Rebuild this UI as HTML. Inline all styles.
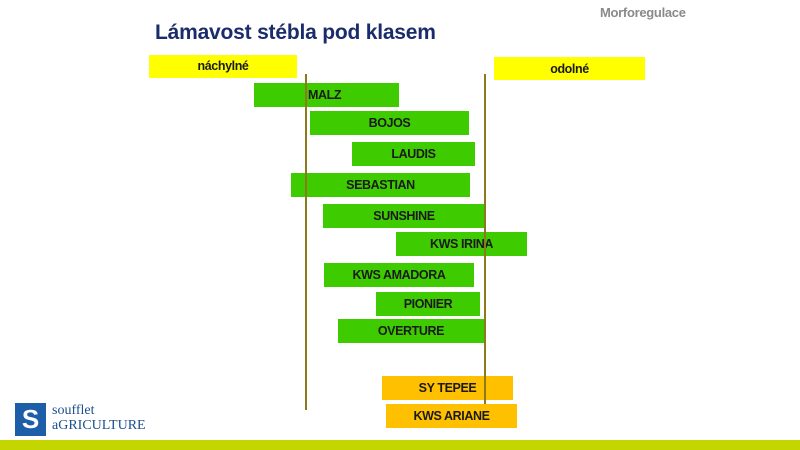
<!DOCTYPE html>
<html><head><meta charset="utf-8"><style>
body{margin:0;width:800px;height:450px;background:#fff;position:relative;overflow:hidden;font-family:"Liberation Sans",sans-serif}
.b{position:absolute;height:24px;background:#3ecc00;color:#1a1a1a;font-weight:bold;font-size:12.5px;letter-spacing:-0.4px;line-height:24px;text-align:center}
.y{background:#ffff00}.o{background:#ffc000}
.l{position:absolute;width:2px;background:#8c7a1c}
</style></head><body>
<div style="position:absolute;left:600px;top:5px;color:#8a8a8a;font-weight:bold;font-size:13px;letter-spacing:-0.3px">Morforegulace</div>
<div style="position:absolute;left:155px;top:21px;color:#1a2c6b;font-weight:bold;font-size:21px;letter-spacing:-0.2px">Lámavost stébla pod klasem</div>
<div class="b y" style="left:149px;top:55px;width:148px;height:23px;line-height:22px">náchylné</div>
<div class="b y" style="left:494px;top:57px;width:151px;height:23px">odolné</div>
<div class="b" style="left:254px;top:83px;width:145px;text-align:left;padding-left:54px;box-sizing:border-box">MALZ</div>
<div class="b" style="left:310px;top:111px;width:159px">BOJOS</div>
<div class="b" style="left:352px;top:142px;width:123px">LAUDIS</div>
<div class="b" style="left:291px;top:173px;width:179px">SEBASTIAN</div>
<div class="b" style="left:323px;top:204px;width:162px">SUNSHINE</div>
<div class="b" style="left:396px;top:232px;width:131px">KWS IRINA</div>
<div class="b" style="left:324px;top:263px;width:150px">KWS AMADORA</div>
<div class="b" style="left:376px;top:292px;width:104px">PIONIER</div>
<div class="b" style="left:338px;top:319px;width:146px">OVERTURE</div>
<div class="b o" style="left:382px;top:376px;width:131px">SY TEPEE</div>
<div class="b o" style="left:386px;top:404px;width:131px">KWS ARIANE</div>
<div class="l" style="left:305px;top:74px;height:336px"></div>
<div class="l" style="left:484px;top:74px;height:330px"></div>
<div style="position:absolute;left:15px;top:403px;width:31px;height:33px;background:#1d5ea8;color:#fff;font-weight:bold;font-size:26px;line-height:33px;text-align:center">S</div>
<div style="position:absolute;left:52px;top:403px;color:#1d4f8c;font-family:'Liberation Serif',serif;font-size:14px;line-height:15px">soufflet<br>aGRICULTURE</div>
<div style="position:absolute;left:0;top:440px;width:800px;height:10px;background:#c3d600"></div>
</body></html>
